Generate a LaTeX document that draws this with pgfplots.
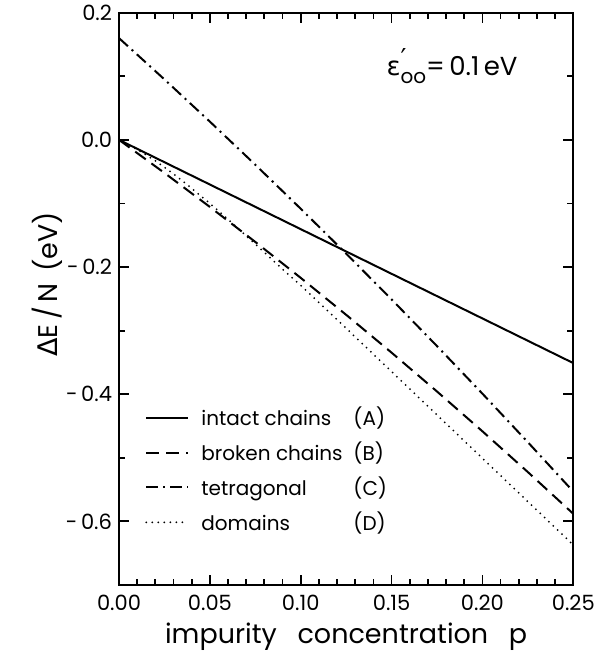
\documentclass[border=0pt]{standalone}
\usepackage{fontspec}
\setmainfont{Poppins}
\newfontfamily\greek{DejaVu Sans}
\usepackage{pgfplots}
\pgfplotsset{compat=1.18}

\begin{document}
\begin{tikzpicture}
\begin{axis}[
    scale only axis,
    width=227pt, height=286pt,
    xmin=0, xmax=0.25,
    ymin=-0.7, ymax=0.2,
    xtick={0,0.05,0.10,0.15,0.20,0.25},
    xticklabels={0.00,0.05,0.10,0.15,0.20,0.25},
    ytick={-0.6,-0.4,-0.2,0,0.2},
    yticklabels={-\,0.6,-\,0.4,-\,0.2,0.0,0.2},
    minor x tick num=4,
    minor y tick num=1,
    tick align=inside,
    major tick length=5pt,
    minor tick length=3pt,
    axis line style={line width=1pt},
    every tick/.style={black, line width=0.9pt},
    ticklabel style={font=\fontsize{10.5}{12}\selectfont},
    xticklabel style={yshift=-1.5pt},
    xlabel={impurity\hspace{0.5em} concentration\hspace{0.5em} p},
    ylabel={{\greek Δ}E\,/\,N\, (eV)},
    label style={font=\fontsize{13.5}{15}\selectfont},
    xlabel style={at={(axis description cs:0.5,0)}, anchor=center, yshift=-26pt},
    ylabel style={at={(axis description cs:-0.158,0.525)}, anchor=center},
    legend style={at={(0.057,0.319)}, anchor=north west, draw=none, fill=none,
        inner sep=0pt, row sep=2.6pt, font=\fontsize{10}{12}\selectfont},
    legend cell align=left,
    legend image code/.code={\draw[#1] (0pt,0pt) -- (21pt,0pt);},
    /tikz/every odd column/.append style={column sep=4pt},
]
% (A) intact chains
\addplot[black, line width=1pt] coordinates {
    (0,0) (0.25,-0.351)
};
\addlegendentry{\makebox[76pt][l]{intact chains}(A)}
% (B) broken chains
\addplot[black, line width=1pt, dash pattern=on 6.5pt off 3.5pt] coordinates {
    (0,0) (0.025,-0.0520) (0.05,-0.1055) (0.075,-0.1605) (0.1,-0.217)
    (0.125,-0.2751) (0.15,-0.3346) (0.175,-0.3957) (0.2,-0.4583)
    (0.225,-0.5224) (0.25,-0.588)
};
\addlegendentry{\makebox[76pt][l]{broken chains}(B)}
% (C) tetragonal
\addplot[black, line width=1pt, dash pattern=on 6pt off 2.5pt on 1pt off 2.5pt] coordinates {
    (0,0.16) (0.025,0.0951) (0.05,0.0287) (0.075,-0.0391) (0.1,-0.1083)
    (0.125,-0.1789) (0.15,-0.2509) (0.175,-0.3243) (0.2,-0.3991)
    (0.225,-0.4754) (0.25,-0.553)
};
\addlegendentry{\makebox[76pt][l]{tetragonal}(C)}
% (D) domains
\addplot[black, line width=1pt, line cap=round, dash pattern=on 0pt off 3pt] coordinates {
    (0,0) (0.01,-0.0150) (0.02,-0.0330) (0.03,-0.0535) (0.04,-0.0762)
    (0.05,-0.1000) (0.06,-0.1250) (0.07,-0.1510) (0.08,-0.1770)
    (0.09,-0.2035) (0.1,-0.229) (0.125,-0.2963) (0.15,-0.3644)
    (0.175,-0.4326) (0.2,-0.5007) (0.225,-0.5689) (0.25,-0.637)
};
\addlegendentry{\makebox[76pt][l]{domains}(D)}
\node[anchor=west, font=\fontsize{13}{15}\selectfont, inner sep=0pt] at (axis cs:0.147,0.116)
    {{\greek ε}\rlap{\raisebox{0.55ex}{\fontsize{13}{13}\selectfont\greek ′}}\raisebox{-0.6ex}{\fontsize{10}{10}\selectfont oo}=\,0.1\,eV};
\end{axis}
\pgfresetboundingbox
\path (-59.5pt,-37.5pt) rectangle (242pt,292.35pt);
\end{tikzpicture}
\end{document}
